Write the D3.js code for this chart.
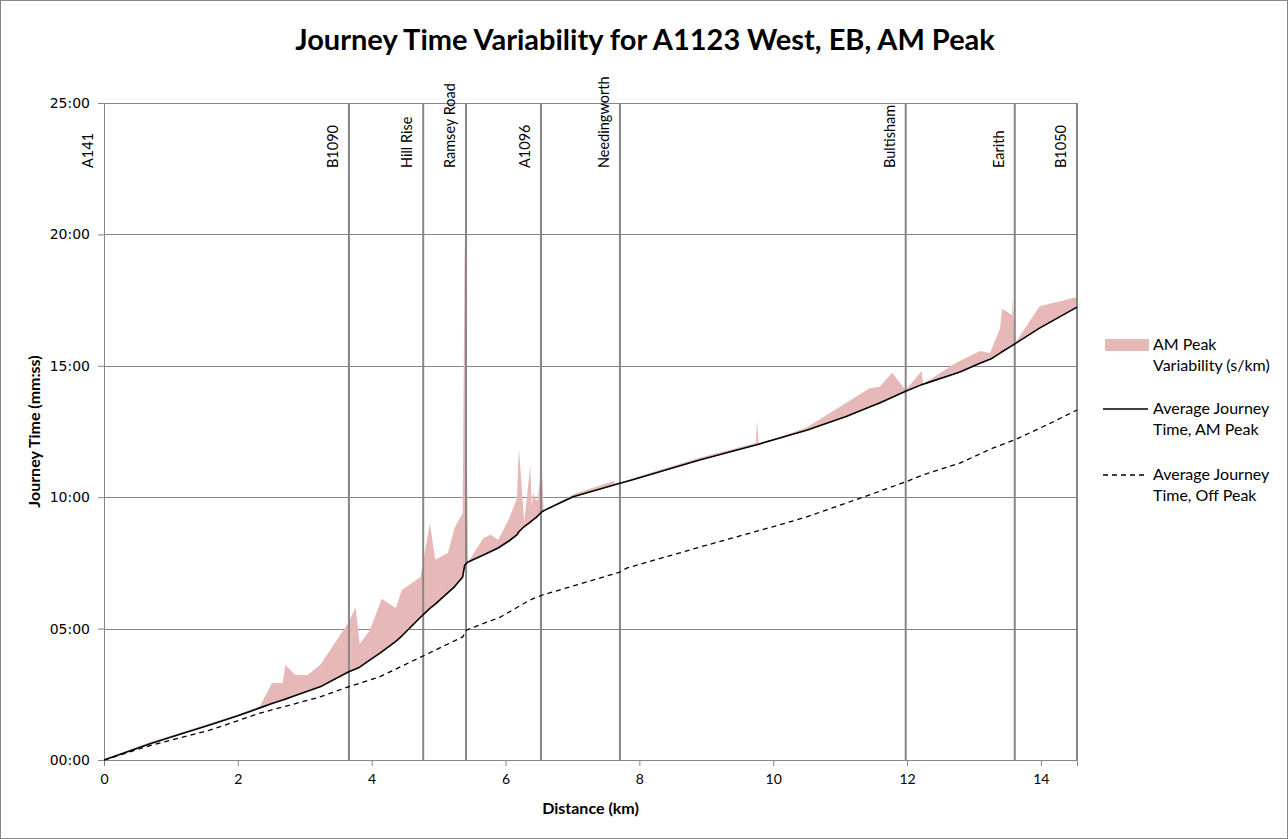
<!DOCTYPE html>
<html>
<head>
<meta charset="utf-8">
<script src="https://cdn.jsdelivr.net/npm/d3@7"></script>
<style>
  body { margin: 0; background: #fff; }
  svg { display: block; }
</style>
</head>
<body>
<svg id="chart" width="1288" height="839"></svg>
<script>
// Distance along the route (km) with the AM peak average journey time (s)
// and the AM peak variability band height above it (s).
const distanceKm = [0.00, 0.35, 0.69, 1.10, 1.58, 2.00, 2.33, 2.51, 2.67, 2.71, 2.86, 3.04, 3.23, 3.65, 3.76, 3.82, 3.97, 4.15, 4.36, 4.45, 4.73, 4.87, 4.95, 5.14, 5.24, 5.36, 5.39, 5.44, 5.67, 5.78, 5.89, 6.05, 6.17, 6.20, 6.28, 6.37, 6.39, 6.41, 6.45, 6.48, 6.54, 6.57, 6.66, 7.01, 7.62, 7.64, 7.71, 7.90, 8.90, 9.74, 9.76, 9.78, 10.10, 10.50, 11.10, 11.44, 11.59, 11.78, 11.98, 12.22, 12.24, 12.30, 12.68, 12.79, 13.09, 13.24, 13.28, 13.39, 13.42, 13.57, 13.58, 13.61, 13.98, 14.54];
const amPeakSec = [0, 19, 37, 57, 80, 101, 119, 129, 137, 139, 147, 157, 167, 201, 208, 212, 228, 247, 271, 283, 326, 346, 356, 382, 396, 418, 445, 452, 468, 476, 484, 500, 514, 521, 533, 543, 546, 548, 553, 557, 566, 569, 576, 601, 628, 629, 632, 640, 685, 719, 720, 721, 735, 753, 785, 806, 815, 828, 842, 857, 858, 861, 880, 886, 906, 915, 918, 929, 932, 946, 947, 950, 986, 1034];
const amVariabilitySec = [0, 2, 4, 3, 4, 3, 4, 47, 39, 78, 47, 37, 50, 112, 141, 53, 67, 121, 76, 105, 92, 195, 101, 91, 134, 146, 754, 0, 39, 38, 18, 50, 83, 191, 10, 130, 32, 62, 42, 35, 114, 0, 0, 6, 9, 0, 0, 3, 5, 5, 56, 2, 3, 6, 31, 43, 37, 56, 3, 31, 0, 3, 22, 25, 28, 14, 26, 57, 98, 70, 110, 0, 50, 23];

// Off peak average journey time
const offPeakKm = [0.00, 0.69, 1.58, 2.33, 3.23, 3.65, 4.12, 4.68, 5.36, 5.42, 5.92, 6.36, 6.56, 7.71, 7.81, 8.90, 10.10, 10.50, 11.34, 11.98, 12.24, 12.79, 13.28, 13.61, 14.09, 14.54];
const offPeakSec = [0, 33, 68, 107, 144, 167, 190, 231, 281, 297, 326, 365, 377, 429, 438, 486, 537, 555, 600, 635, 651, 678, 712, 731, 765, 799];

// Junctions marked along the route
const junctionNames = ["A141", "B1090", "Hill Rise", "Ramsey Road", "A1096", "Needingworth", "Bultisham", "Earith", "B1050"];
const junctionKm = [0, 3.66, 4.77, 5.41, 6.53, 7.71, 11.98, 13.61, 14.54];

const xTicks = [0, 2, 4, 6, 8, 10, 12, 14];
const yTicksSec = [0, 300, 600, 900, 1200, 1500];

const titleText = "Journey Time Variability for A1123 West, EB, AM Peak";
const legendLabels = [["AM Peak", "Variability (s/km)"], ["Average Journey", "Time, AM Peak"], ["Average Journey", "Time, Off Peak"]];

const svg = d3.select("#chart");
const W = 1288, H = 839;
const plot = { left: 104, right: 1077, top: 103, bottom: 760 };
const gridGray = "#868686";
const bandFill = "#e6b9b8";
const sans = "Lato, 'Open Sans', sans-serif";

const x = d3.scaleLinear().domain([0, 14.54]).range([plot.left, plot.right]);
const y = d3.scaleLinear().domain([0, 1500]).range([plot.bottom, plot.top]);

const mmss = s => String(Math.floor(s / 60)).padStart(2, "0") + ":" + String(s % 60).padStart(2, "0");

// chart frame
svg.append("rect").attr("x", 0.5).attr("y", 0.5).attr("width", W - 1).attr("height", H - 1)
  .attr("fill", "#fff").attr("stroke", gridGray).attr("stroke-width", 1);

// title
svg.append("text").attr("x", 645).attr("y", 50).attr("text-anchor", "middle")
  .attr("font-family", sans).attr("font-weight", "bold").attr("font-size", 29)
  .attr("fill", "#000").text(titleText);

// horizontal gridlines
svg.append("g").selectAll("line").data(yTicksSec.filter(d => d > 0)).join("line")
  .attr("x1", plot.left).attr("x2", plot.right)
  .attr("y1", d => Math.round(y(d)) + 0.5).attr("y2", d => Math.round(y(d)) + 0.5)
  .attr("stroke", gridGray).attr("stroke-width", 1);

// variability band above the AM peak line
const rows = distanceKm.map((d, i) => ({ d, base: amPeakSec[i], top: amPeakSec[i] + amVariabilitySec[i] }));
const band = d3.area().x(r => x(r.d)).y0(r => y(r.base)).y1(r => y(r.top));
svg.append("path").datum(rows).attr("d", band).attr("fill", bandFill).attr("stroke", "none");

// junction markers
svg.append("g").selectAll("line").data(junctionKm.slice(1)).join("line")
  .attr("x1", d => x(d)).attr("x2", d => x(d))
  .attr("y1", plot.top).attr("y2", plot.bottom)
  .attr("stroke", gridGray).attr("stroke-width", 2);

svg.append("g").selectAll("text").data(junctionNames).join("text")
  .attr("transform", (n, i) => `translate(${x(junctionKm[i]) - 11},168) rotate(-90)`)
  .attr("text-anchor", "start")
  .attr("font-family", sans).attr("font-size", 14.5)
  .attr("fill", "#000").text(n => n);

// axes
const xAxis = d3.axisBottom(x).tickValues(xTicks).tickSize(6).tickFormat(d3.format("d"));
const gx = svg.append("g").attr("transform", `translate(0,${plot.bottom})`).call(xAxis);
gx.select(".domain").attr("stroke", gridGray);
gx.selectAll(".tick line").attr("stroke", gridGray);
gx.selectAll(".tick text").attr("font-family", sans).attr("font-size", 14).attr("fill", "#000").attr("dy", "1.1em");

const yAxis = d3.axisLeft(y).tickValues(yTicksSec).tickSize(6).tickFormat(mmss);
const gy = svg.append("g").attr("transform", `translate(${plot.left},0)`).call(yAxis);
gy.select(".domain").attr("stroke", gridGray);
gy.selectAll(".tick line").attr("stroke", gridGray);
gy.selectAll(".tick text").attr("font-family", "'DejaVu Sans', Verdana, sans-serif").attr("font-size", 14).attr("fill", "#000").attr("x", -14);

// average journey time lines
const amLine = d3.line().x((d, i) => x(d)).y((d, i) => y(amPeakSec[i]));
svg.append("path").datum(distanceKm).attr("d", amLine)
  .attr("fill", "none").attr("stroke", "#000").attr("stroke-width", 1.6).attr("stroke-linejoin", "round");

const offLine = d3.line().x((d, i) => x(d)).y((d, i) => y(offPeakSec[i]));
svg.append("path").datum(offPeakKm).attr("d", offLine)
  .attr("fill", "none").attr("stroke", "#000").attr("stroke-width", 1.3).attr("stroke-dasharray", "5,4");

// axis titles
svg.append("text").attr("x", (plot.left + plot.right) / 2).attr("y", 814).attr("text-anchor", "middle")
  .attr("font-family", sans).attr("font-weight", "bold").attr("font-size", 16)
  .text("Distance (km)");
svg.append("text").attr("transform", `translate(40,${(plot.top + plot.bottom) / 2}) rotate(-90)`).attr("text-anchor", "middle")
  .attr("font-family", sans).attr("font-weight", "bold").attr("font-size", 16)
  .text("Journey Time (mm:ss)");

// legend
const legend = svg.append("g").attr("font-family", sans).attr("font-size", 16).attr("fill", "#000");
const legendRowY = [345, 409, 475];
legend.append("rect").attr("x", 1105).attr("y", legendRowY[0] - 6).attr("width", 44).attr("height", 12).attr("fill", bandFill);
legend.append("line").attr("x1", 1103).attr("x2", 1148).attr("y1", legendRowY[1]).attr("y2", legendRowY[1])
  .attr("stroke", "#000").attr("stroke-width", 1.6);
legend.append("line").attr("x1", 1103).attr("x2", 1148).attr("y1", legendRowY[2]).attr("y2", legendRowY[2])
  .attr("stroke", "#000").attr("stroke-width", 1.3).attr("stroke-dasharray", "5,4");
legendLabels.forEach((pair, i) => {
  pair.forEach((t, j) => {
    legend.append("text").attr("x", 1153).attr("y", legendRowY[i] + 5 + j * 21).text(t);
  });
});
</script>
</body>
</html>
